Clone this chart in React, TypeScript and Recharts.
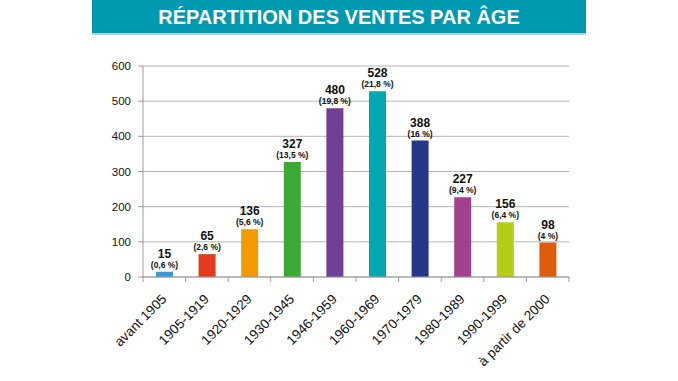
import React from "react";
import { BarChart, Bar, XAxis, YAxis, CartesianGrid, Cell, LabelList } from "recharts";

const categories = ["avant 1905", "1905-1919", "1920-1929", "1930-1945", "1946-1959", "1960-1969", "1970-1979", "1980-1989", "1990-1999", "à partir de 2000"];
const sales = [15, 65, 136, 327, 480, 528, 388, 227, 156, 98];
const shares = ["0,6", "2,6", "5,6", "13,5", "19,8", "21,8", "16", "9,4", "6,4", "4"];
const colors = ["#3b9ad2", "#e5391e", "#f39a00", "#3aaa35", "#6e3f92", "#00a9b1", "#263787", "#a1428e", "#b5cb14", "#de5c0c"];
const yTicks = [0, 100, 200, 300, 400, 500, 600];

const data = categories.map((c, i) => ({ name: c, value: sales[i], share: shares[i], idx: i }));

const FONT = "'Liberation Sans', Arial, sans-serif";
const BAND = 42.6;

const XTick = (props: any) => {
  const { x, payload, index } = props;
  const axisY = 277;
  const isLast = index === categories.length - 1;
  const ax = x + 3;
  const ay = axisY + 23;
  return (
    <g>
      <line x1={x - BAND / 2} x2={x - BAND / 2} y1={axisY} y2={axisY + 5} stroke="#9a9a9a" />
      {isLast && <line x1={x + BAND / 2} x2={x + BAND / 2} y1={axisY} y2={axisY + 5} stroke="#9a9a9a" />}
      <text
        x={ax}
        y={ay}
        textAnchor="end"
        transform={`rotate(-45 ${ax} ${ay})`}
        fontSize={13.5}
        fontFamily={FONT}
        fill="#111"
      >
        {payload.value}
      </text>
    </g>
  );
};

const ValueLabel = (props: any) => {
  const { x, y, width, index } = props;
  const cx = x + width / 2;
  return (
    <g>
      <text x={cx} y={y - 14} textAnchor="middle" fontSize={12} fontWeight="bold" fontFamily={FONT} fill="#111">
        {sales[index]}
      </text>
      <text x={cx} y={y - 4} textAnchor="middle" fontSize={8.5} fontWeight="bold" fontFamily={FONT} fill="#111">
        {`(${shares[index]} %)`}
      </text>
    </g>
  );
};

export default function App() {
  return (
    <div style={{ position: "absolute", left: 0, top: 0, width: 678, height: 381, background: "#fff" }}>
      <div
        style={{
          position: "absolute",
          left: 92,
          top: 0,
          width: 494,
          height: 33,
          background: "#0099b2",
          borderBottom: "2px solid #9fd6e0",
          color: "#fff",
          fontFamily: FONT,
          fontWeight: "bold",
          fontSize: 20,
          lineHeight: "34px",
          textAlign: "center",
        }}
      >
        RÉPARTITION DES VENTES PAR ÂGE
      </div>
      <BarChart
        width={678}
        height={381}
        data={data}
        margin={{ top: 66, right: 109, bottom: 0, left: 0 }}
        barCategoryGap={0}
      >
        <CartesianGrid vertical={false} stroke="#b5b5b5" />
        <YAxis
          width={143}
          domain={[0, 600]}
          ticks={yTicks}
          tickSize={5}
          tickMargin={7}
          axisLine={{ stroke: "#9a9a9a" }}
          tickLine={{ stroke: "#9a9a9a" }}
          tick={{ fontSize: 11.5, fill: "#111", fontFamily: FONT }}
        />
        <XAxis
          dataKey="name"
          height={104}
          interval={0}
          axisLine={{ stroke: "#9a9a9a" }}
          tickLine={false}
          tick={<XTick />}
        />
        <Bar dataKey="value" barSize={17} isAnimationActive={false}>
          {data.map((d, i) => (
            <Cell key={i} fill={colors[i]} />
          ))}
          <LabelList dataKey="value" content={<ValueLabel />} />
        </Bar>
      </BarChart>
    </div>
  );
}
